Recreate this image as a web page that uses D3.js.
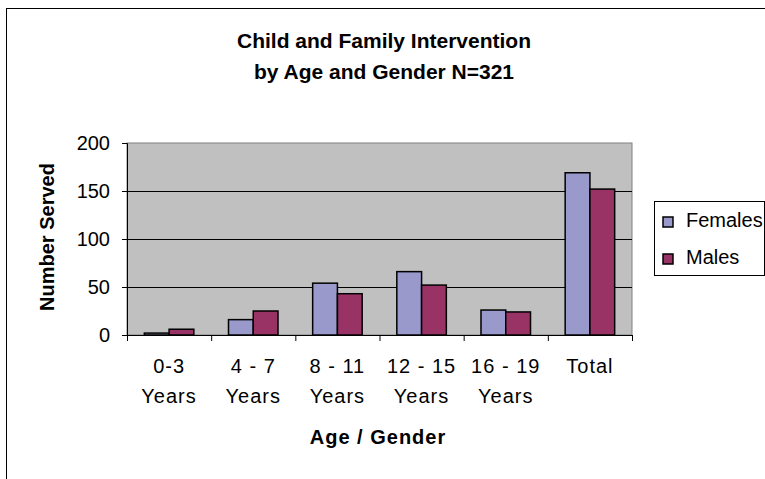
<!DOCTYPE html>
<html>
<head>
<meta charset="utf-8">
<script src="https://cdn.jsdelivr.net/npm/d3@7/dist/d3.min.js"></script>
<style>
  html, body { margin: 0; padding: 0; background: #fff; }
  svg { display: block; font-family: "Liberation Sans", Arial, sans-serif; }
</style>
</head>
<body>
<svg id="chart" width="765" height="479"></svg>
<script>
// Age groups (two-line labels) and counts per gender
const categories = ["0-3|Years", "4 - 7|Years", "8 - 11|Years", "12 - 15|Years", "16 - 19|Years", "Total"];
const females = [2, 16, 54, 66, 26, 169];
const males = [6, 25, 43, 52, 24, 152];
const seriesNames = ["Females", "Males"];
const yTicks = [0, 50, 100, 150, 200];

const colors = { Females: "#9999cc", Males: "#993366" };

const svg = d3.select("#chart");

// outer chart frame
svg.append("rect")
  .attr("x", 6.5).attr("y", 8.5)
  .attr("width", 770).attr("height", 480)
  .attr("fill", "#fff").attr("stroke", "#000").attr("stroke-width", 1);

const plot = { left: 127, right: 632, top: 143, bottom: 335 };

const x0 = d3.scaleBand().domain(categories)
  .range([plot.left, plot.right]).paddingInner(0).paddingOuter(0);
const x1 = d3.scaleBand().domain(seriesNames)
  .range([0, x0.bandwidth()]).paddingInner(0).paddingOuter(0.7);
const y = d3.scaleLinear().domain([0, 200]).range([plot.bottom, plot.top]);

// plot background
svg.append("rect")
  .attr("x", plot.left).attr("y", plot.top)
  .attr("width", plot.right - plot.left).attr("height", plot.bottom - plot.top)
  .attr("fill", "#c0c0c0").attr("stroke", "#808080").attr("stroke-width", 1);

// gridlines
svg.append("g").selectAll("line")
  .data(yTicks.filter(d => d > 0 && d < 200))
  .join("line")
  .attr("x1", plot.left).attr("x2", plot.right)
  .attr("y1", d => Math.round(y(d)) + 0.5).attr("y2", d => Math.round(y(d)) + 0.5)
  .attr("stroke", "#000").attr("stroke-width", 1);

// bars
const rows = categories.map((c, i) => ({ cat: c, values: [
  { key: "Females", value: females[i] },
  { key: "Males", value: males[i] }
]}));

const groups = svg.append("g").selectAll("g")
  .data(rows).join("g")
  .attr("transform", d => `translate(${x0(d.cat)},0)`);

groups.selectAll("rect")
  .data(d => d.values).join("rect")
  .attr("x", d => x1(d.key))
  .attr("y", d => y(d.value))
  .attr("width", x1.bandwidth())
  .attr("height", d => y(0) - y(d.value))
  .attr("fill", d => colors[d.key])
  .attr("stroke", "#000").attr("stroke-width", 1.5);

// y axis
const yAxis = d3.axisLeft(y).tickValues(yTicks).tickSize(5).tickPadding(12).tickFormat(d3.format("d"));
const yg = svg.append("g").attr("transform", `translate(${plot.left},0)`).call(yAxis);
yg.select(".domain").attr("stroke", "#000");
yg.selectAll(".tick line").attr("stroke", "#000");
yg.selectAll(".tick text").attr("font-size", 20).attr("fill", "#000")
  .attr("font-family", "Liberation Sans, Arial, sans-serif");

// x axis
const xAxis = d3.axisBottom(x0).tickSize(6).tickFormat("");
const xg = svg.append("g").attr("transform", `translate(0,${plot.bottom})`).call(xAxis);
xg.select(".domain").attr("stroke", "#000");
xg.selectAll(".tick").remove();
// category separators
xg.selectAll("line.sep")
  .data(categories.map(c => x0(c)).concat([plot.right]))
  .join("line").attr("class", "sep")
  .attr("x1", d => d + 0.5).attr("x2", d => d + 0.5)
  .attr("y1", 0).attr("y2", 6).attr("stroke", "#000");

// category labels (two lines)
const labels = svg.append("g").selectAll("text")
  .data(categories).join("text")
  .attr("x", d => x0(d) + x0.bandwidth() / 2)
  .attr("y", 373)
  .attr("text-anchor", "middle")
  .attr("font-size", 20).attr("letter-spacing", 1).attr("fill", "#000");
labels.each(function(d) {
  const parts = d.split("|");
  const t = d3.select(this);
  parts.forEach((p, i) => {
    t.append("tspan").attr("x", x0(d) + x0.bandwidth() / 2)
      .attr("dy", i === 0 ? 0 : 30).text(p);
  });
});

// titles
svg.append("text").attr("x", 384).attr("y", 48)
  .attr("text-anchor", "middle").attr("font-size", 21).attr("font-weight", "bold")
  .text("Child and Family Intervention");
svg.append("text").attr("x", 384).attr("y", 79)
  .attr("text-anchor", "middle").attr("font-size", 21).attr("font-weight", "bold")
  .text("by Age and Gender N=321");

svg.append("text").attr("x", 378).attr("y", 444)
  .attr("text-anchor", "middle").attr("font-size", 20).attr("font-weight", "bold")
  .attr("letter-spacing", 1)
  .text("Age / Gender");

svg.append("text")
  .attr("transform", "translate(54,237) rotate(-90)")
  .attr("text-anchor", "middle").attr("font-size", 20).attr("font-weight", "bold")
  .text("Number Served");

// legend
const lg = svg.append("g");
lg.append("rect").attr("x", 654.5).attr("y", 201.5).attr("width", 110).attr("height", 74)
  .attr("fill", "#fff").attr("stroke", "#000");
const items = lg.selectAll("g.item").data(seriesNames).join("g")
  .attr("class", "item")
  .attr("transform", (d, i) => `translate(663,${217 + i * 37})`);
items.append("rect").attr("width", 10).attr("height", 10)
  .attr("fill", d => colors[d]).attr("stroke", "#000").attr("stroke-width", 1.5);
items.append("text").attr("x", 23).attr("y", 10)
  .attr("font-size", 20).text(d => d);
</script>
</body>
</html>
